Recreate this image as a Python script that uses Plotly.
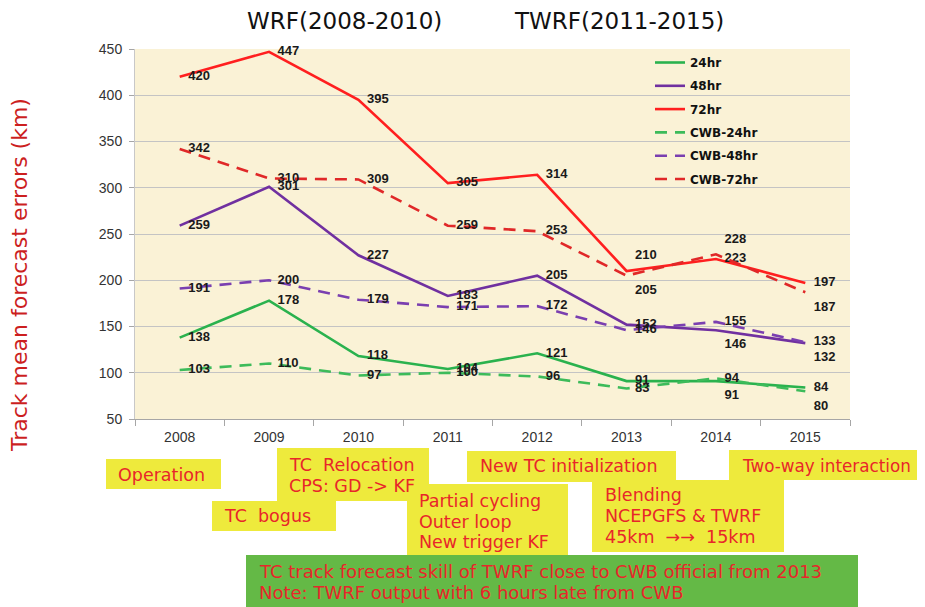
import plotly.graph_objects as go

years = ["2008", "2009", "2010", "2011", "2012", "2013", "2014", "2015"]
wrf_24 = [138, 178, 118, 104, 121, 91, 91, 84]
wrf_48 = [259, 301, 227, 183, 205, 152, 146, 132]
wrf_72 = [420, 447, 395, 305, 314, 210, 223, 197]
cwb_24 = [103, 110, 97, 100, 96, 83, 94, 80]
cwb_48 = [191, 200, 179, 171, 172, 146, 155, 133]
cwb_72 = [342, 310, 309, 259, 253, 205, 228, 187]
y_ticks = [50, 100, 150, 200, 250, 300, 350, 400, 450]

series_names = ["24hr", "48hr", "72hr", "CWB-24hr", "CWB-48hr", "CWB-72hr"]

# plot area in page pixels (the page body has an 8px margin)
OFF = 8
L, R, T, B = 135, 850, 49, 419
W, H = 925 - OFF, 607 - OFF


def px(x):
    return (x - L) / (R - L)


def py(y):
    return (B - y) / (B - T)


MR = "middle right"
BR = "bottom right"
TR = "top right"
positions = {
    "24hr": [MR, MR, MR, MR, MR, MR, BR, MR],
    "48hr": [MR, MR, MR, MR, MR, MR, BR, BR],
    "72hr": [MR, MR, MR, MR, MR, TR, MR, MR],
    "CWB-24hr": [MR, MR, MR, MR, MR, MR, MR, BR],
    "CWB-48hr": [MR, MR, MR, MR, MR, MR, MR, MR],
    "CWB-72hr": [MR, MR, MR, MR, MR, BR, TR, BR],
}

styles = {
    "24hr": dict(color="#2AB24E", dash="solid"),
    "48hr": dict(color="#7030A0", dash="solid"),
    "72hr": dict(color="#FF1F1F", dash="solid"),
    "CWB-24hr": dict(color="#3DBB5A", dash="12px,8px"),
    "CWB-48hr": dict(color="#7A3FB0", dash="12px,8px"),
    "CWB-72hr": dict(color="#E02828", dash="12px,8px"),
}

data = {
    "24hr": wrf_24, "48hr": wrf_48, "72hr": wrf_72,
    "CWB-24hr": cwb_24, "CWB-48hr": cwb_48, "CWB-72hr": cwb_72,
}

fig = go.Figure()
for name in series_names:
    st = styles[name]
    vals = data[name]
    fig.add_trace(go.Scatter(
        x=years, y=vals, name=name, legendgroup=name,
        mode="lines+markers+text",
        line=dict(color=st["color"], width=2.6, dash=st["dash"]),
        marker=dict(size=12, color="rgba(0,0,0,0)"),
        text=[str(v) for v in vals],
        textposition=positions[name],
        textfont=dict(family="Liberation Sans", size=13, color="#1a1a1a", weight="bold"),
        cliponaxis=False,
        hoverinfo="x+y+name",
    ))

shapes = []
annotations = []

# titles
annotations.append(dict(text="WRF(2008-2010)", x=px(344), y=py(21), xref="paper", yref="paper",
                        showarrow=False, xanchor="center", yanchor="middle",
                        font=dict(family="DejaVu Sans", size=23, color="#111111")))
annotations.append(dict(text="TWRF(2011-2015)", x=px(619), y=py(21), xref="paper", yref="paper",
                        showarrow=False, xanchor="center", yanchor="middle",
                        font=dict(family="DejaVu Sans", size=23, color="#111111")))
# y axis title
annotations.append(dict(text="Track mean forecast errors (km)", x=px(19), y=py(275), xref="paper",
                        yref="paper", showarrow=False, textangle=-90, xanchor="center",
                        yanchor="middle",
                        font=dict(family="DejaVu Sans", size=22, color="#CC1F1F")))

YELLOW = "#EEEA3C"
GREEN = "#64B946"
RED_TXT = "#E8262A"

# (x0, y0, x1, y1, fill, lines, text_x, line_centers, font size) in page pixels
boxes = [
    (106, 459, 221, 489, YELLOW, ["Operation"], 116, [475], 17.5),
    (212, 501, 336, 531, YELLOW, ["TC  bogus"], 222, [516], 17.5),
    (277, 448, 429, 501, YELLOW, ["TC  Relocation", "CPS: GD -> KF"], 287, [465, 486], 17.5),
    (407, 484, 568, 556, YELLOW, ["Partial cycling", "Outer loop", "New trigger KF"], 417,
     [501, 522, 542], 17.5),
    (467, 451, 676, 482, YELLOW, ["New TC initialization"], 478, [466], 17.5),
    (592, 480, 784, 552, YELLOW, ["Blending", "NCEPGFS & TWRF", "45km  \u2192\u2192  15km"], 603,
     [495, 516, 537], 17.5),
    (729, 450, 925, 480, YELLOW, ["Two-way interaction"], 740, [466], 16.8),
    (246, 555, 858, 607, GREEN,
     ["TC track forecast skill of TWRF close to CWB official from 2013",
      "Note: TWRF output with 6 hours late from CWB"], 257, [571, 592], 18),
]

for x0, y0, x1, y1, fill, lines, tx, tys, fs in boxes:
    shapes.append(dict(type="rect", xref="paper", yref="paper",
                       x0=px(x0), x1=px(x1), y0=py(y1), y1=py(y0),
                       fillcolor=fill, line=dict(width=0), layer="above"))
    for txt, ty in zip(lines, tys):
        annotations.append(dict(text=txt, x=px(tx), y=py(ty), xref="paper", yref="paper",
                                showarrow=False, xanchor="left", yanchor="middle", align="left",
                                font=dict(family="DejaVu Sans", size=fs, color=RED_TXT)))

fig.update_layout(
    width=W, height=H, autosize=False,
    margin=dict(l=L - OFF, r=W - (R - OFF), t=T - OFF, b=H - (B - OFF)),
    paper_bgcolor="white",
    plot_bgcolor="#FAF2D6",
    shapes=shapes,
    annotations=annotations,
    showlegend=True,
    legend=dict(x=px(650), y=py(48), xanchor="left", yanchor="top",
                bgcolor="rgba(0,0,0,0)", traceorder="grouped", tracegroupgap=4.3,
                font=dict(family="DejaVu Sans", size=12, color="#111111", weight="bold")),
    xaxis=dict(type="category", range=[-0.5, 7.5], showgrid=False,
               showline=True, linecolor="#A6A6A6", linewidth=1,
               ticks="outside", tickson="boundaries", ticklen=6, tickcolor="#A6A6A6",
               ticklabelstandoff=5,
               tickfont=dict(family="Liberation Sans", size=14, color="#333333"),
               fixedrange=True),
    yaxis=dict(range=[50, 450], tickvals=y_ticks, showgrid=True, gridcolor="#C4C4C4",
               gridwidth=1, showline=True, linecolor="#C8C8C8", zeroline=False,
               ticks="outside", ticklen=5, tickcolor="#A6A6A6", ticklabelstandoff=4,
               tickfont=dict(family="Liberation Sans", size=14, color="#333333"),
               fixedrange=True),
    hovermode="closest",
)

fig.write_html("out.html")
